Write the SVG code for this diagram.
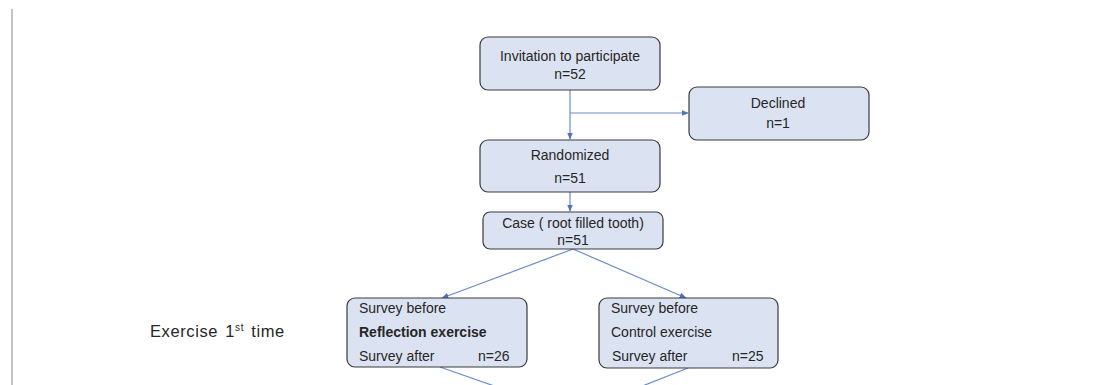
<svg xmlns="http://www.w3.org/2000/svg" width="1095" height="385" viewBox="0 0 1095 385">
<style>
.box{fill:#dbe3f2;stroke:#3a3a3a;stroke-width:1.2}
.t{font-family:"Liberation Sans",Arial,sans-serif;font-size:14px;fill:#262626}
.c{text-anchor:middle}
.b{font-weight:bold}
.con{stroke:#6a8cc8;stroke-width:1.2;fill:none}
.lbl{font-family:"Liberation Sans",Arial,sans-serif;font-size:16.5px;fill:#262626;letter-spacing:0.6px;word-spacing:2px}
</style>
<defs>
<marker id="ah" viewBox="0 0 10 10" refX="9" refY="5" markerWidth="6" markerHeight="6" orient="auto">
<path d="M0,1 L10,5 L0,9 z" fill="#4f72b8"/>
</marker>
</defs>
<rect x="0" y="0" width="1095" height="385" fill="#ffffff"/>
<line x1="12" y1="9" x2="12" y2="385" stroke="#c4c4c4" stroke-width="2"/>
<g id="connectors">
<line class="con" x1="570" y1="90" x2="570" y2="139" marker-end="url(#ah)"/>
<line class="con" x1="570" y1="113" x2="688" y2="113" marker-end="url(#ah)"/>
<line class="con" x1="570" y1="192" x2="570" y2="211" marker-end="url(#ah)"/>
<line class="con" x1="573" y1="249" x2="442" y2="298" marker-end="url(#ah)"/>
<line class="con" x1="573" y1="249" x2="686" y2="298" marker-end="url(#ah)"/>
<line class="con" x1="440" y1="367" x2="520" y2="395"/>
<line class="con" x1="688" y1="368" x2="612" y2="398"/>
</g>
<g id="invitation">
<rect class="box" x="480" y="37" width="180" height="53" rx="8"/>
<text class="t c" x="570" y="61">Invitation to participate</text>
<text class="t c" x="570" y="79">n=52</text>
</g>
<g id="declined">
<rect class="box" x="689" y="87" width="180" height="53" rx="8"/>
<text class="t c" x="778" y="108">Declined</text>
<text class="t c" x="778" y="128">n=1</text>
</g>
<g id="randomized">
<rect class="box" x="480" y="140" width="180" height="52" rx="8"/>
<text class="t c" x="570" y="160">Randomized</text>
<text class="t c" x="570" y="183">n=51</text>
</g>
<g id="case">
<rect class="box" x="483" y="212" width="180" height="37" rx="7"/>
<text class="t c" x="573" y="228">Case ( root filled tooth)</text>
<text class="t c" x="573" y="245">n=51</text>
</g>
<g id="reflection">
<rect class="box" x="347" y="298" width="180" height="69" rx="8"/>
<text class="t" x="359" y="313">Survey before</text>
<text class="t b" x="359" y="337">Reflection exercise</text>
<text class="t" x="359" y="361">Survey after</text>
<text class="t" x="478" y="361">n=26</text>
</g>
<g id="control">
<rect class="box" x="599" y="298" width="179" height="70" rx="8"/>
<text class="t" x="611" y="313">Survey before</text>
<text class="t" x="611" y="337">Control exercise</text>
<text class="t" x="612" y="361">Survey after</text>
<text class="t" x="732" y="361">n=25</text>
</g>
<g id="label-exercise">
<text class="lbl" x="150" y="337">Exercise 1<tspan font-size="10" dy="-6">st</tspan><tspan dy="6"> time</tspan></text>
</g>
</svg>
